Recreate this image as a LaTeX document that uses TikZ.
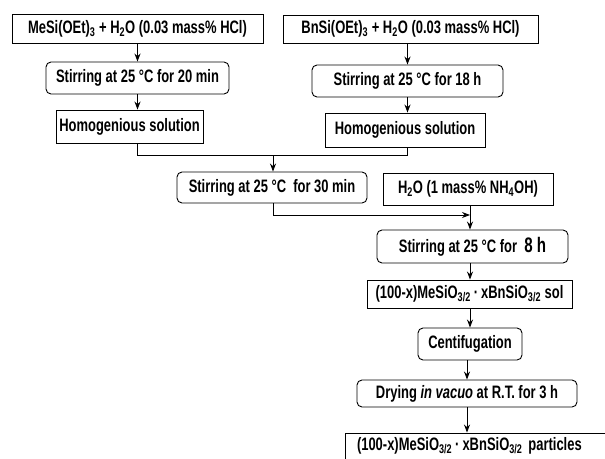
\documentclass[tikz,border=0pt]{standalone}
\usepackage{fontspec}
\setmainfont{Liberation Sans}[FakeStretch=0.72]
\usepackage{tikz}
\usetikzlibrary{calc,positioning,arrows.meta}

\tikzset{
  plainbox/.style={draw, line width=0.9pt, inner sep=0pt},
  roundbox/.style={plainbox, rounded corners=5pt},
  flow/.style={-{Stealth[length=8pt,width=6pt]}, line width=0.9pt}
}

\begin{document}
\begin{tikzpicture}[x=1pt, y=-1pt, font=\fontsize{18}{20}\selectfont\bfseries]
        \useasboundingbox (0,0) rectangle (605,458);
        \clip (0,0) rectangle (605,458);

        % left branch
        \node [plainbox, minimum width=251pt, minimum height=29pt] (mesi) at (137.5,28.5) {MeSi(OEt)\textsubscript{3} + H\textsubscript{2}O (0.03 mass\% HCl)};
        \node [roundbox, minimum width=183pt, minimum height=32pt] (stirA) at (137.5,78) {Stirring at 25 °C for 20 min};
        \node [plainbox, minimum width=147pt, minimum height=33pt] (homA) at (129.5,126.5) {Homogenious solution};

        % right branch
        \node [plainbox, minimum width=255pt, minimum height=28pt] (bnsi) at (410.5,29) {BnSi(OEt)\textsubscript{3} + H\textsubscript{2}O (0.03 mass\% HCl)};
        \node [roundbox, minimum width=191pt, minimum height=32pt] (stirB) at (407.5,81) {Stirring at 25 °C for 18 h};
        \node [plainbox, minimum width=160pt, minimum height=34pt] (homB) at (405,130) {Homogenious solution};

        % mixing
        \node [roundbox, minimum width=190pt, minimum height=31pt] (stirC) at (272,187.5) {Stirring at 25 °C\ \ for 30 min};
        \node [plainbox, minimum width=170pt, minimum height=32pt] (ammonia) at (468,189) {H\textsubscript{2}O (1 mass\% NH\textsubscript{4}OH)};
        \node [roundbox, minimum width=191pt, minimum height=33pt] (stirD) at (472.5,246.5) {Stirring at 25 °C for\ \ {\fontsize{21}{22}\selectfont 8 h}};
        \node [plainbox, minimum width=205pt, minimum height=28pt] (sol) at (469.5,294) {(100-x)MeSiO\textsubscript{3/2}\,·\,xBnSiO\textsubscript{3/2} sol};
        \node [roundbox, minimum width=104pt, minimum height=32pt] (centri) at (470,344) {Centifugation};
        \node [roundbox, minimum width=220pt, minimum height=27pt] (dry) at (467,393.5) {Drying \textit{in vacuo} at R.T. for 3 h};
        \node [plainbox, text width=246pt, inner xsep=12pt, minimum height=26pt, align=left] (particles) at (480,446) {(100-x)MeSiO\textsubscript{3/2}\,·\,xBnSiO\textsubscript{3/2} particles};

        \coordinate (join) at (273,155);
        \coordinate (merge) at (470,215);

        \draw[flow] (mesi) -- (stirA);
        \draw[flow] (stirA) -- (stirA.south |- homA.north);
        \draw[flow] (stirB.north |- bnsi.south) -- (stirB);
        \draw[flow] (stirB) -- (stirB.south |- homB.north);
        \draw[line width=0.9pt] (homA.south -| stirA) |- (join);
        \draw[line width=0.9pt] (homB.south -| stirB) |- (join);
        \draw[flow] (join) -- (join |- stirC.north);
        \draw[flow] (stirC.south -| join) |- (merge);
        \draw[flow] (ammonia.south -| merge) -- (merge |- stirD.north);
        \draw[flow] (stirD.south -| merge) -- (merge |- sol.north);
        \draw[flow] (centri.north |- sol.south) -- (centri);
        \draw[flow] (centri.south -| dry) -- (dry);
        \draw[flow] (dry) -- (dry |- particles.north);
\end{tikzpicture}
\end{document}
